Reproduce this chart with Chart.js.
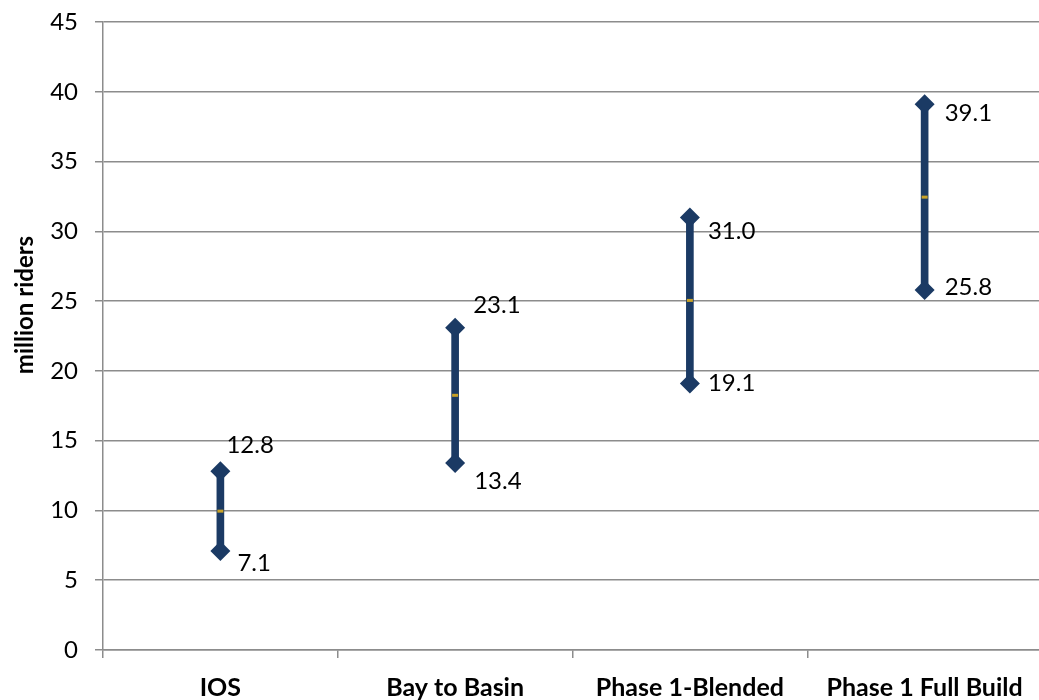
<!DOCTYPE html>
<html>
<head>
<meta charset="utf-8">
<script src="https://cdn.jsdelivr.net/npm/chart.js@4"></script>
<style>
html,body{margin:0;padding:0;background:#fff;overflow:hidden;}
#wrap{width:1052px;height:700px;position:relative;}
</style>
</head>
<body>
<div id="wrap"><canvas id="c"></canvas></div>
<script>
const categories = ["IOS", "Bay to Basin", "Phase 1-Blended", "Phase 1 Full Build"];
const highValues = [12.8, 23.1, 31.0, 39.1];
const lowValues = [7.1, 13.4, 19.1, 25.8];
const midValues = [9.95, 18.25, 25.05, 32.45];
const yTicks = [0, 5, 10, 15, 20, 25, 30, 35, 40, 45];
const yTitle = "million riders";

// label offsets (px) relative to marker: [dx, dy]
const highLabelOffsets = [[6, -26], [18, -22], [18, 14], [20, 9]];
const lowLabelOffsets = [[17, 12], [19, 18], [18, 0], [20, -3]];

const NAVY = "#1B3A64";
const FONT = "Lato, 'Liberation Sans', sans-serif";

const labelPlugin = {
  id: "rangeLabels",
  afterDatasetsDraw(chart) {
    const ctx = chart.ctx;
    ctx.save();
    ctx.font = "24px " + FONT;
    ctx.fillStyle = "#000";
    ctx.textAlign = "left";
    ctx.textBaseline = "middle";
    [[1, highValues, highLabelOffsets], [2, lowValues, lowLabelOffsets]].forEach(([di, vals, offs]) => {
      const meta = chart.getDatasetMeta(di);
      meta.data.forEach((pt, i) => {
        ctx.fillText(vals[i].toFixed(1), pt.x + offs[i][0], pt.y + offs[i][1]);
      });
    });
    // y-axis title, placed like the source (slightly above plot centre)
    ctx.font = "bold 24px " + FONT;
    ctx.textAlign = "center";
    ctx.translate(25, 305);
    ctx.rotate(-Math.PI / 2);
    ctx.fillText(yTitle, 0, 0);
    ctx.restore();
  }
};

new Chart(document.getElementById("c"), {
  type: "bar",
  data: {
    labels: categories,
    datasets: [
      {
        type: "bar",
        data: categories.map((_, i) => [lowValues[i], highValues[i]]),
        backgroundColor: NAVY,
        borderWidth: 0,
        barThickness: 7,
        order: 3
      },
      {
        type: "line",
        data: highValues,
        showLine: false,
        pointStyle: "rectRot",
        pointRadius: 10,
        pointBackgroundColor: NAVY,
        pointBorderColor: NAVY,
        pointBorderWidth: 0,
        order: 2
      },
      {
        type: "line",
        data: lowValues,
        showLine: false,
        pointStyle: "rectRot",
        pointRadius: 10,
        pointBackgroundColor: NAVY,
        pointBorderColor: NAVY,
        pointBorderWidth: 0,
        order: 2
      },
      {
        type: "line",
        data: midValues,
        showLine: false,
        pointStyle: "line",
        pointRadius: 3,
        pointBorderColor: "#C9A227",
        pointBorderWidth: 3,
        order: 1
      }
    ]
  },
  options: {
    responsive: true,
    maintainAspectRatio: false,
    animation: false,
    events: [],
    layout: { padding: { left: 10, top: 22, right: 3, bottom: 0 } },
    plugins: { legend: { display: false }, tooltip: { enabled: false } },
    scales: {
      x: {
        offset: true,
        afterFit(axis) { axis.height = 50; axis.paddingRight = 0; axis.paddingLeft = 0; },
        grid: { display: true, drawOnChartArea: false, drawTicks: true, tickLength: 8, color: "#8C8C8C", lineWidth: 1.5, offset: true },
        border: { display: true, color: "#8C8C8C", width: 1.5 },
        ticks: { color: "#000", font: { family: FONT, size: 25, weight: "bold", lineHeight: 1.0 }, padding: 17 }
      },
      y: {
        min: 0,
        max: 45,
        afterFit(axis) { axis.width = 93; axis.paddingTop = 0; axis.paddingBottom = 0; },
        afterBuildTicks(axis) { axis.ticks = yTicks.map(v => ({ value: v })); },
        grid: { color: "#8C8C8C", lineWidth: 1.5, drawTicks: true, tickLength: 8 },
        border: { display: true, color: "#8C8C8C", width: 1.5 },
        ticks: { color: "#000", font: { family: FONT, size: 24 }, padding: 17 },
        title: { display: false }
      }
    }
  },
  plugins: [labelPlugin]
});
</script>
</body>
</html>
